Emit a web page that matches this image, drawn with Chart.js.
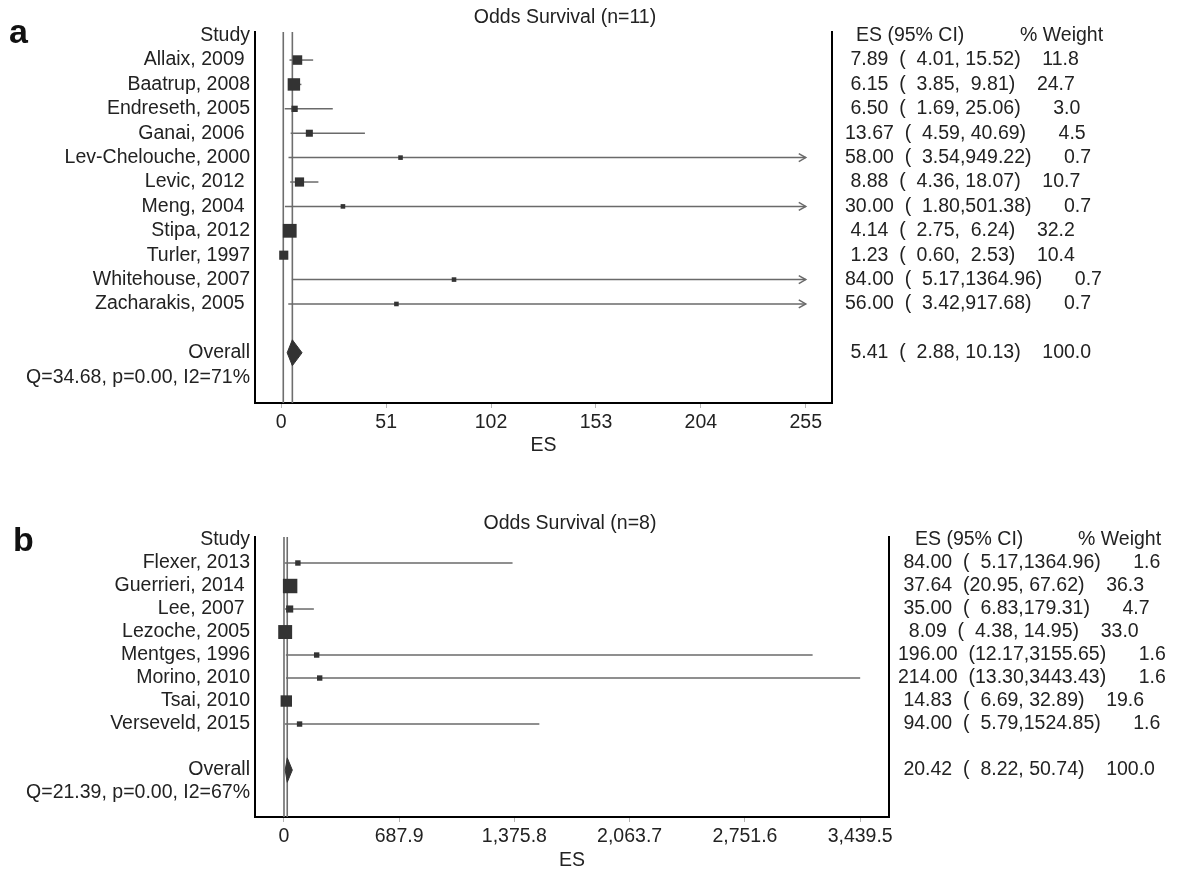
<!DOCTYPE html>
<html lang="en">
<head>
<meta charset="utf-8">
<title>Odds Survival forest plots</title>
<script src="https://cdn.jsdelivr.net/npm/chart.js@4.4.1/dist/chart.umd.min.js"></script>
<style>
  html, body { margin: 0; padding: 0; background: #fff; overflow: hidden; }
  body { width: 1179px; height: 872px; position: relative;
         font-family: "Liberation Sans", Arial, Helvetica, sans-serif; color: #222; }
  canvas { position: absolute; left: 0; }
  .tag { position: absolute; font-weight: bold; font-size: 34px; line-height: 34px; color: #111; }
  .title { position: absolute; width: 400px; text-align: center; font-size: 19.5px;
           line-height: 22px; white-space: pre; color: #222; }
</style>
</head>
<body>
<canvas id="chartA" width="1179" height="460" style="top:0"></canvas>
<canvas id="chartB" width="1179" height="412" style="top:460px"></canvas>
<div class="tag" style="left:9px;top:14px">a</div>
<div class="tag" style="left:13px;top:522px">b</div>
<div class="title" id="titleA" style="left:365px;top:5px"></div>
<div class="title" id="titleB" style="left:370px;top:511px"></div>
<script>
// ---- Panel a: odds of survival, 11 studies ----
const titleA = "Odds Survival (n=11)";
const studiesA = ["Allaix, 2009 ", "Baatrup, 2008", "Endreseth, 2005", "Ganai, 2006 ",
  "Lev-Chelouche, 2000", "Levic, 2012 ", "Meng, 2004 ", "Stipa, 2012", "Turler, 1997",
  "Whitehouse, 2007", "Zacharakis, 2005 "];
const esA     = [7.89, 6.15, 6.50, 13.67, 58.00, 8.88, 30.00, 4.14, 1.23, 84.00, 56.00];
const lowerA  = [4.01, 3.85, 1.69, 4.59, 3.54, 4.36, 1.80, 2.75, 0.60, 5.17, 3.42];
const upperA  = [15.52, 9.81, 25.06, 40.69, 949.22, 18.07, 501.38, 6.24, 2.53, 1364.96, 917.68];
const weightA = [11.8, 24.7, 3.0, 4.5, 0.7, 10.7, 0.7, 32.2, 10.4, 0.7, 0.7];
const overallA = [5.41, 2.88, 10.13, 100.0];   // ES, lower, upper, weight
const hetA = "Q=34.68, p=0.00, I2=71%";
const ticksA = [0, 51, 102, 153, 204, 255];
const tickLabelsA = ["0", "51", "102", "153", "204", "255"];

// ---- Panel b: odds of survival, 8 studies ----
const titleB = "Odds Survival (n=8)";
const studiesB = ["Flexer, 2013", "Guerrieri, 2014 ", "Lee, 2007 ", "Lezoche, 2005",
  "Mentges, 1996", "Morino, 2010", "Tsai, 2010", "Verseveld, 2015"];
const esB     = [84.00, 37.64, 35.00, 8.09, 196.00, 214.00, 14.83, 94.00];
const lowerB  = [5.17, 20.95, 6.83, 4.38, 12.17, 13.30, 6.69, 5.79];
const upperB  = [1364.96, 67.62, 179.31, 14.95, 3155.65, 3443.43, 32.89, 1524.85];
const weightB = [1.6, 36.3, 4.7, 33.0, 1.6, 1.6, 19.6, 1.6];
const overallB = [20.42, 8.22, 50.74, 100.0];
const hetB = "Q=21.39, p=0.00, I2=67%";
const ticksB = [0, 687.9, 1375.8, 2063.7, 2751.6, 3439.5];
const tickLabelsB = ["0", "687.9", "1,375.8", "2,063.7", "2,751.6", "3,439.5"];

// ---- styling ----
const FONT_FAMILY = '"Liberation Sans", Arial, Helvetica, sans-serif';
const FONT_SIZE = 19.5;
const TEXT = '#222222';
const BOX = '#333333';
const CI_COLOR = '#6a6a6a';
const REF_COLOR = '#6e6e6e';
const FRAME = '#000000';
const DIAMOND_HALF = 0.53;   // half height of the pooled diamond, in rows
const FIG = '\u2007';

Chart.defaults.font.family = FONT_FAMILY;
Chart.defaults.font.size = FONT_SIZE;
Chart.defaults.color = TEXT;

document.getElementById('titleA').textContent = titleA;
document.getElementById('titleB').textContent = titleB;

function padLeft(s, n, ch) { while (s.length < n) s = ch + s; return s; }
function estimateText(es, lo, hi, w) {
  return padLeft(es.toFixed(2), 6, ' ') + '  (' + padLeft(lo.toFixed(2), 5, FIG) + ',' +
         padLeft(hi.toFixed(2), 6, ' ') + ')    ' + padLeft(w.toFixed(1), 4, FIG);
}
// box side in px grows with the square root of the study weight
function boxSide(w) { return 3 + 1.9 * Math.sqrt(w); }

function makeForest(canvasId, p) {
  const n = p.names.length;
  const rowOverall = n + 2;
  const rowHet = n + 3;
  const rowLabels = ['Study', ...p.names, '', 'Overall', p.het];
  const tickMin = p.ticks[0];
  const tickMax = p.ticks[p.ticks.length - 1];
  const span = tickMax - tickMin;
  const xMin = tickMin - 0.05 * span;
  const xMax = tickMax + 0.05 * span;
  const [oe, ol, oh, ow] = p.overall;

  const datasets = [];
  // study boxes
  datasets.push({
    data: p.es.map((v, i) => ({ x: v, y: i + 1 })),
    pointStyle: 'rect',
    pointRadius: p.weight.map(w => boxSide(w) / Math.SQRT2),
    backgroundColor: BOX, borderColor: BOX, pointBorderWidth: 0, showLine: false
  });
  // pooled estimate diamond
  datasets.push({
    data: [{ x: ol, y: rowOverall }, { x: oe, y: rowOverall - DIAMOND_HALF },
           { x: oh, y: rowOverall }, { x: oe, y: rowOverall + DIAMOND_HALF },
           { x: ol, y: rowOverall }],
    showLine: true, fill: 'shape', backgroundColor: BOX, borderColor: BOX,
    borderWidth: 1, pointRadius: 0, tension: 0
  });
  // confidence intervals, cut at the last axis label
  p.es.forEach((_, i) => datasets.push({
    data: [{ x: p.lo[i], y: i + 1 }, { x: Math.min(p.hi[i], tickMax), y: i + 1 }],
    showLine: true, borderColor: CI_COLOR, backgroundColor: CI_COLOR,
    borderWidth: 1.5, pointRadius: 0, fill: false
  }));
  // null line and pooled-estimate line
  [1, oe].forEach(v => datasets.push({
    data: [{ x: v, y: p.yMin }, { x: v, y: p.yMax }],
    showLine: true, borderColor: REF_COLOR, backgroundColor: REF_COLOR,
    borderWidth: 1.6, pointRadius: 0, fill: false
  }));

  const arrowRows = [];
  p.hi.forEach((h, i) => { if (h > tickMax * 1.05) arrowRows.push(i + 1); });

  const lines = p.es.map((v, i) => ({ row: i + 1, text: estimateText(v, p.lo[i], p.hi[i], p.weight[i]) }));
  lines.push({ row: rowOverall, text: estimateText(oe, ol, oh, ow) });

  const columnsPlugin = {
    id: 'forestColumns',
    afterDraw(chart) {
      const { ctx } = chart;
      const ys = chart.scales.y;
      ctx.save();
      ctx.font = FONT_SIZE + 'px ' + FONT_FAMILY;
      ctx.fillStyle = TEXT;
      ctx.textBaseline = 'middle';
      ctx.textAlign = 'left';
      const yh = ys.getPixelForValue(0);
      ctx.fillText('ES (95% CI)', p.esHeadX, yh);
      ctx.fillText('% Weight', p.weightHeadX, yh);
      lines.forEach(l => ctx.fillText(l.text, p.textX, ys.getPixelForValue(l.row)));
      ctx.restore();
    }
  };

  const arrowPlugin = {
    id: 'ciArrows',
    afterDatasetsDraw(chart) {
      if (!arrowRows.length) return;
      const { ctx } = chart;
      const px = chart.scales.x.getPixelForValue(tickMax);
      ctx.save();
      ctx.strokeStyle = CI_COLOR;
      ctx.lineWidth = 1.5;
      arrowRows.forEach(r => {
        const py = chart.scales.y.getPixelForValue(r);
        ctx.beginPath();
        ctx.moveTo(px - 7, py - 4);
        ctx.lineTo(px, py);
        ctx.lineTo(px - 7, py + 4);
        ctx.stroke();
      });
      ctx.restore();
    }
  };

  return new Chart(document.getElementById(canvasId), {
    type: 'scatter',
    data: { datasets },
    options: {
      responsive: false,
      animation: false,
      events: [],
      layout: { padding: { top: p.top, right: p.rightPad, left: 0, bottom: 0 } },
      plugins: { legend: { display: false }, tooltip: { enabled: false } },
      scales: {
        x: {
          type: 'linear', position: 'bottom', min: xMin, max: xMax,
          afterBuildTicks: s => { s.ticks = p.ticks.map(v => ({ value: v })); },
          afterFit: s => { s.height = p.axisHeight; },
          ticks: { autoSkip: false, maxRotation: 0, padding: 3, color: TEXT,
                   callback: (v, i) => p.tickLabels[i] },
          grid: { display: true, drawOnChartArea: false, drawTicks: true, tickLength: 5, color: '#b5b5b5' },
          border: { display: true, color: FRAME, width: 2 },
          title: { display: true, text: 'ES', color: TEXT, font: { size: FONT_SIZE },
                   padding: { top: 0, bottom: p.titlePad } }
        },
        y: {
          type: 'linear', position: 'left', reverse: true, min: p.yMin, max: p.yMax,
          afterBuildTicks: s => { s.ticks = rowLabels.map((_, i) => ({ value: i })); },
          afterFit: s => { s.width = 255; },
          ticks: { autoSkip: false, padding: 5, color: TEXT,
                   callback: v => rowLabels[v] !== undefined ? rowLabels[v] : '' },
          grid: { display: false, drawTicks: false },
          border: { display: true, color: FRAME, width: 2 }
        },
        yFrame: {
          type: 'linear', position: 'right', reverse: true, min: p.yMin, max: p.yMax,
          afterFit: s => { s.width = 0; },
          ticks: { display: false },
          grid: { display: false, drawTicks: false },
          border: { display: true, color: FRAME, width: 2 }
        }
      }
    },
    plugins: [columnsPlugin, arrowPlugin]
  });
}

makeForest('chartA', {
  names: studiesA, es: esA, lo: lowerA, hi: upperA, weight: weightA,
  overall: overallA, het: hetA, ticks: ticksA, tickLabels: tickLabelsA,
  top: 32, rightPad: 347, axisHeight: 57, titlePad: 3,
  yMin: -0.15, yMax: 15.06,
  textX: 839.6, esHeadX: 856, weightHeadX: 1020
});

makeForest('chartB', {
  names: studiesB, es: esB, lo: lowerB, hi: upperB, weight: weightB,
  overall: overallB, het: hetB, ticks: ticksB, tickLabels: tickLabelsB,
  top: 77, rightPad: 290, axisHeight: 55, titlePad: 0,
  yMin: -0.13, yMax: 12.04,
  textX: 898, esHeadX: 915, weightHeadX: 1078
});
</script>
</body>
</html>
